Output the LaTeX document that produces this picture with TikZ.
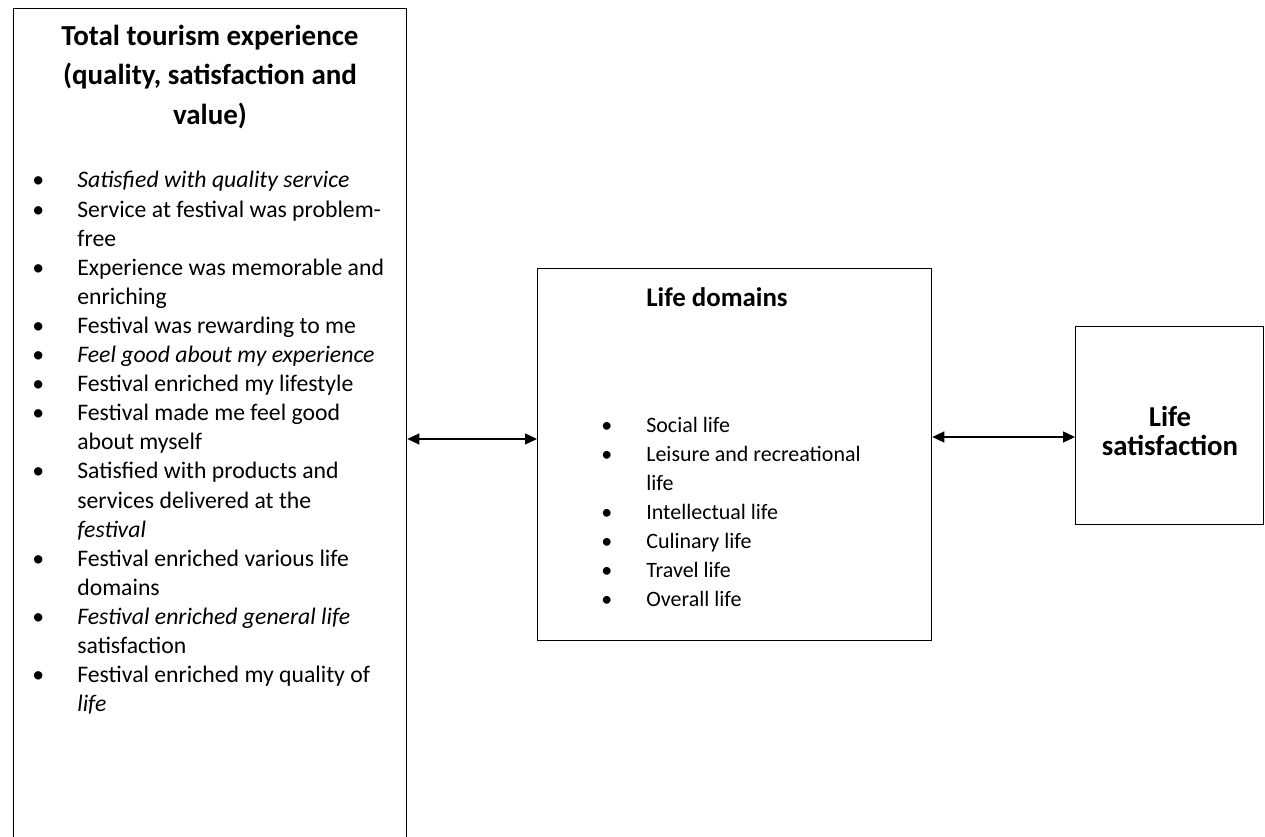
\documentclass[tikz,border=0pt]{standalone}
\usepackage{fontspec}
\setmainfont{Carlito}
\usetikzlibrary{arrows.meta,positioning}

\newcommand{\bul}{\makebox[0.9cm][l]{\textbullet}}
\newcommand{\ind}{\hspace*{0.9cm}}

\begin{document}
\begin{tikzpicture}[x=0.02cm,y=-0.02cm,
  box/.style={draw=black,line width=0.8pt,inner sep=0pt},
  head/.style={font=\bfseries\fontsize{16.5}{22.7}\selectfont,align=center},
  items/.style={font=\fontsize{13.5}{16.56}\selectfont,align=left,inner sep=0pt},
  biarrow/.style={{Triangle[length=2.4mm,width=2.2mm]}-{Triangle[length=2.4mm,width=2.2mm]},line width=0.8pt},
]
\clip (0,0) rectangle (1265,837);

% boxes
\node[box,anchor=north west,minimum width=7.86cm,minimum height=17.5cm] (exp) at (13,8) {};
\node[box,anchor=north west,minimum width=7.88cm,minimum height=7.44cm] (dom) at (537,268) {};
\node[box,anchor=north west,minimum width=3.76cm,minimum height=3.96cm] (sat) at (1075,326) {};

% total tourism experience
\node[head] (exptitle) at (210,77) {Total tourism experience\\(quality, satisfaction and\\value)};
\node[items,anchor=west] (explist) at (32,443) {%
  \bul\textit{Satisfied with quality service}\\
  \bul Service at festival was problem-\\
  \ind free\\
  \bul Experience was memorable and\\
  \ind enriching\\
  \bul Festival was rewarding to me\\
  \bul\textit{Feel good about my experience}\\
  \bul Festival enriched my lifestyle\\
  \bul Festival made me feel good\\
  \ind about myself\\
  \bul Satisfied with products and\\
  \ind services delivered at the\\
  \ind\textit{festival}\\
  \bul Festival enriched various life\\
  \ind domains\\
  \bul\textit{Festival enriched general life}\\
  \ind satisfaction\\
  \bul Festival enriched my quality of\\
  \ind\textit{life}};

% life domains
\node[head,font=\bfseries\fontsize{15.3}{18}\selectfont] (domtitle) at (717,297) {Life domains};
\node[items,font=\fontsize{12.5}{16.56}\selectfont,anchor=west] (domlist) at (601,512) {%
  \bul Social life\\
  \bul Leisure and recreational\\
  \ind life\\
  \bul Intellectual life\\
  \bul Culinary life\\
  \bul Travel life\\
  \bul Overall life};

% life satisfaction
\node[head,font=\bfseries\fontsize{16.4}{16.6}\selectfont] (sattitle) at (1170,431) {Life\\satisfaction};

% connectors
\draw[biarrow] (exp.east |- 0,439) -- (dom.west |- 0,439);
\draw[biarrow] (dom.east |- 0,437) -- (sat.west |- 0,437);

\end{tikzpicture}
\end{document}
